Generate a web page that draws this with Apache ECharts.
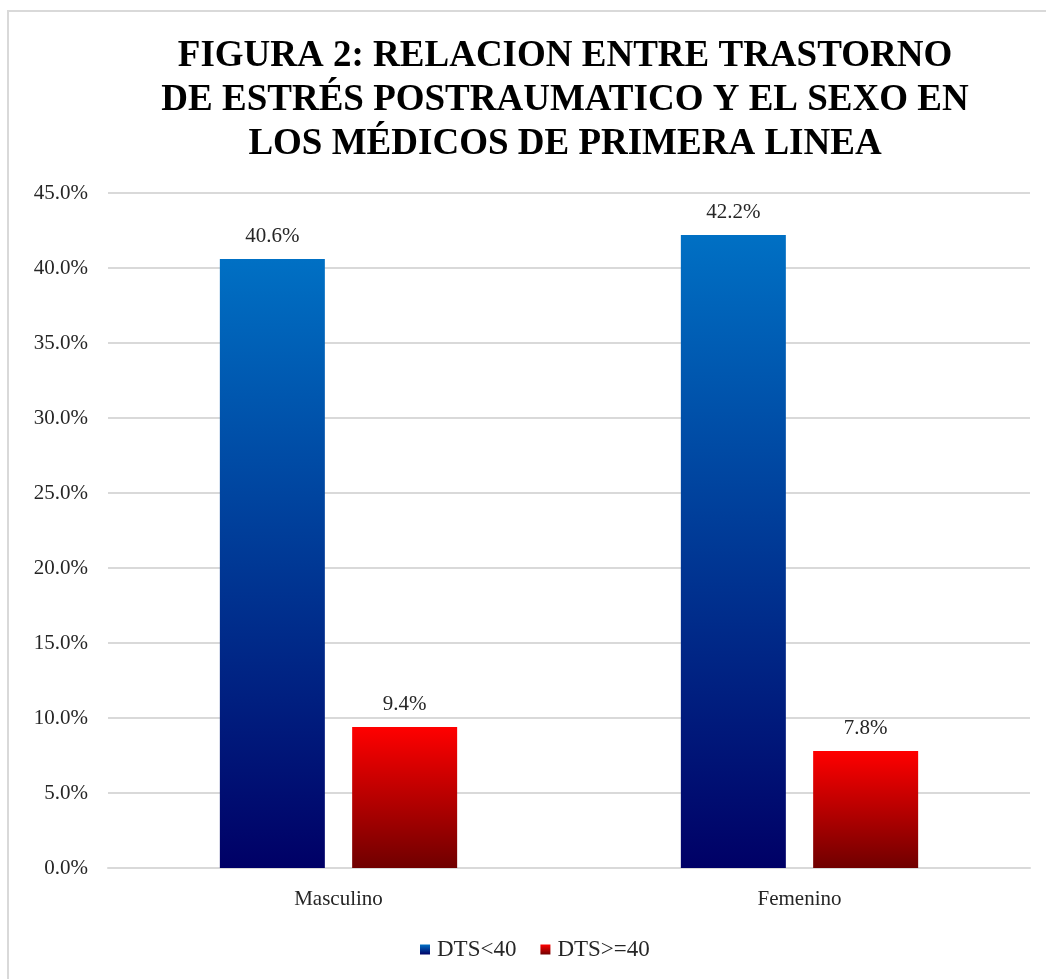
<!DOCTYPE html>
<html>
<head>
<meta charset="utf-8">
<script src="https://cdn.jsdelivr.net/npm/echarts@6/dist/echarts.min.js"></script>
<style>
  html, body { margin: 0; padding: 0; background: #fff; }
  #main { width: 1046px; height: 979px; }
</style>
</head>
<body>
<div id="main"></div>
<script>
var categories = ['Masculino', 'Femenino'];
var seriesNames = ['DTS<40', 'DTS>=40'];
var dtsMenor40 = [40.6, 42.2];
var dtsMayor40 = [9.4, 7.8];
var yTicks = { min: 0, max: 45, interval: 5 };

var serif = '"Liberation Serif", "DejaVu Serif", serif';

function grad(top, bottom) {
  return new echarts.graphic.LinearGradient(0, 0, 0, 1, [
    { offset: 0, color: top },
    { offset: 1, color: bottom }
  ]);
}

var chart = echarts.init(document.getElementById('main'));
var labelStyle = {
  show: true,
  position: 'top',
  distance: 12,
  fontFamily: serif,
  fontSize: 21,
  color: '#262626',
  formatter: function (p) { return p.value.toFixed(1) + '%'; }
};

chart.setOption({
  animation: false,
  backgroundColor: '#fff',
  graphic: [{
    type: 'rect',
    shape: { x: 8, y: 11, width: 1100, height: 1100 },
    style: { fill: 'none', stroke: '#d9d9d9', lineWidth: 2 },
    silent: true
  }],
  title: {
    text: 'FIGURA 2: RELACION ENTRE TRASTORNO\nDE ESTRÉS POSTRAUMATICO Y EL SEXO EN\nLOS MÉDICOS DE PRIMERA LINEA',
    left: 560,
    textAlign: 'center',
    top: 29,
    textStyle: {
      fontFamily: serif,
      fontWeight: 'bold',
      fontSize: 37,
      lineHeight: 44,
      color: '#000'
    }
  },
  legend: {
    bottom: 13,
    left: 415,
    itemWidth: 10,
    itemHeight: 10,
    itemGap: 24,
    icon: 'rect',
    textStyle: { fontFamily: serif, fontSize: 23, color: '#262626', padding: [0, 0, 0, 2] },
    data: seriesNames
  },
  grid: { left: 108, right: 16, top: 193, bottom: 111 },
  xAxis: {
    type: 'category',
    data: categories,
    axisLine: { lineStyle: { color: '#d9d9d9', width: 2 } },
    axisTick: { show: false },
    axisLabel: { fontFamily: serif, fontSize: 21, color: '#262626', margin: 21 }
  },
  yAxis: {
    type: 'value',
    min: yTicks.min,
    max: yTicks.max,
    interval: yTicks.interval,
    axisLine: { show: false },
    axisTick: { show: false },
    axisLabel: {
      fontFamily: serif, fontSize: 21, color: '#262626', margin: 20,
      formatter: function (v) { return v.toFixed(1) + '%'; }
    },
    splitLine: { lineStyle: { color: '#d9d9d9', width: 2 } }
  },
  series: [{
    name: seriesNames[0],
    type: 'bar',
    data: dtsMenor40,
    barWidth: 105,
    barGap: '26%',
    itemStyle: { color: grad('#0070c4', '#000066') },
    label: labelStyle
  }, {
    name: seriesNames[1],
    type: 'bar',
    data: dtsMayor40,
    barWidth: 105,
    itemStyle: { color: grad('#ff0000', '#700000') },
    label: labelStyle
  }]
});
</script>
</body>
</html>
